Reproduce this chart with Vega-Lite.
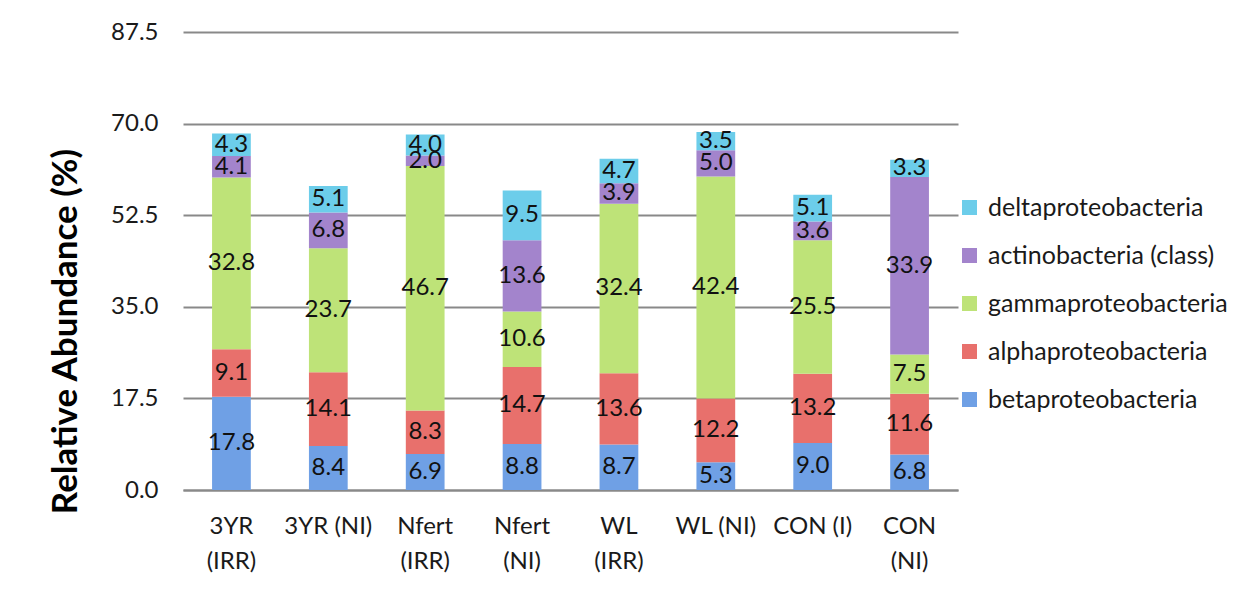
{
  "$schema": "https://vega.github.io/schema/vega-lite/v6.json",
  "autosize": "none",
  "width": 775,
  "height": 458,
  "padding": {"left": 183, "top": 32, "right": 295, "bottom": 115},
  "background": "white",
  "config": {
    "font": "Lato",
    "view": {"stroke": null}
  },
  "data": {
    "values": [
      {"group": "3YR (IRR)", "taxon": "betaproteobacteria", "ord": 1, "value": 17.8},
      {"group": "3YR (IRR)", "taxon": "alphaproteobacteria", "ord": 2, "value": 9.1},
      {"group": "3YR (IRR)", "taxon": "gammaproteobacteria", "ord": 3, "value": 32.8},
      {"group": "3YR (IRR)", "taxon": "actinobacteria (class)", "ord": 4, "value": 4.1},
      {"group": "3YR (IRR)", "taxon": "deltaproteobacteria", "ord": 5, "value": 4.3},
      {"group": "3YR (NI)", "taxon": "betaproteobacteria", "ord": 1, "value": 8.4},
      {"group": "3YR (NI)", "taxon": "alphaproteobacteria", "ord": 2, "value": 14.1},
      {"group": "3YR (NI)", "taxon": "gammaproteobacteria", "ord": 3, "value": 23.7},
      {"group": "3YR (NI)", "taxon": "actinobacteria (class)", "ord": 4, "value": 6.8},
      {"group": "3YR (NI)", "taxon": "deltaproteobacteria", "ord": 5, "value": 5.1},
      {"group": "Nfert (IRR)", "taxon": "betaproteobacteria", "ord": 1, "value": 6.9},
      {"group": "Nfert (IRR)", "taxon": "alphaproteobacteria", "ord": 2, "value": 8.3},
      {"group": "Nfert (IRR)", "taxon": "gammaproteobacteria", "ord": 3, "value": 46.7},
      {"group": "Nfert (IRR)", "taxon": "actinobacteria (class)", "ord": 4, "value": 2.0},
      {"group": "Nfert (IRR)", "taxon": "deltaproteobacteria", "ord": 5, "value": 4.0},
      {"group": "Nfert (NI)", "taxon": "betaproteobacteria", "ord": 1, "value": 8.8},
      {"group": "Nfert (NI)", "taxon": "alphaproteobacteria", "ord": 2, "value": 14.7},
      {"group": "Nfert (NI)", "taxon": "gammaproteobacteria", "ord": 3, "value": 10.6},
      {"group": "Nfert (NI)", "taxon": "actinobacteria (class)", "ord": 4, "value": 13.6},
      {"group": "Nfert (NI)", "taxon": "deltaproteobacteria", "ord": 5, "value": 9.5},
      {"group": "WL (IRR)", "taxon": "betaproteobacteria", "ord": 1, "value": 8.7},
      {"group": "WL (IRR)", "taxon": "alphaproteobacteria", "ord": 2, "value": 13.6},
      {"group": "WL (IRR)", "taxon": "gammaproteobacteria", "ord": 3, "value": 32.4},
      {"group": "WL (IRR)", "taxon": "actinobacteria (class)", "ord": 4, "value": 3.9},
      {"group": "WL (IRR)", "taxon": "deltaproteobacteria", "ord": 5, "value": 4.7},
      {"group": "WL (NI)", "taxon": "betaproteobacteria", "ord": 1, "value": 5.3},
      {"group": "WL (NI)", "taxon": "alphaproteobacteria", "ord": 2, "value": 12.2},
      {"group": "WL (NI)", "taxon": "gammaproteobacteria", "ord": 3, "value": 42.4},
      {"group": "WL (NI)", "taxon": "actinobacteria (class)", "ord": 4, "value": 5.0},
      {"group": "WL (NI)", "taxon": "deltaproteobacteria", "ord": 5, "value": 3.5},
      {"group": "CON (I)", "taxon": "betaproteobacteria", "ord": 1, "value": 9.0},
      {"group": "CON (I)", "taxon": "alphaproteobacteria", "ord": 2, "value": 13.2},
      {"group": "CON (I)", "taxon": "gammaproteobacteria", "ord": 3, "value": 25.5},
      {"group": "CON (I)", "taxon": "actinobacteria (class)", "ord": 4, "value": 3.6},
      {"group": "CON (I)", "taxon": "deltaproteobacteria", "ord": 5, "value": 5.1},
      {"group": "CON (NI)", "taxon": "betaproteobacteria", "ord": 1, "value": 6.8},
      {"group": "CON (NI)", "taxon": "alphaproteobacteria", "ord": 2, "value": 11.6},
      {"group": "CON (NI)", "taxon": "gammaproteobacteria", "ord": 3, "value": 7.5},
      {"group": "CON (NI)", "taxon": "actinobacteria (class)", "ord": 4, "value": 33.9},
      {"group": "CON (NI)", "taxon": "deltaproteobacteria", "ord": 5, "value": 3.3}
    ]
  },
  "encoding": {
    "x": {
      "field": "group",
      "type": "nominal",
      "sort": null,
      "scale": {"paddingInner": 0.6, "paddingOuter": 0.3},
      "axis": {
        "title": null,
        "labelAngle": 0,
        "ticks": false,
        "domain": true,
        "domainColor": "#898989",
        "domainWidth": 2,
        "labelFontSize": 24,
        "labelColor": "#1a1a1a",
        "labelPadding": 24,
        "labelLineHeight": 35,
        "labelBaseline": "top",
        "labelExpr": "indexof(['3YR (NI)','WL (NI)','CON (I)'], datum.label) >= 0 ? datum.label : split(datum.label, ' ')"
      }
    },
    "y": {
      "field": "value",
      "type": "quantitative",
      "stack": "zero",
      "title": "Relative Abundance (%)",
      "scale": {"domain": [0, 87.5], "nice": false},
      "axis": {
        "titleFontSize": 35,
        "titleFontWeight": "bold",
        "titleColor": "#000000",
        "titleX": -118,
        "titleY": 299,
        "titleAngle": -90,
        "titleAlign": "center",
        "titleBaseline": "middle",
        "values": [0, 17.5, 35, 52.5, 70, 87.5],
        "format": ".1f",
        "ticks": false,
        "domain": false,
        "grid": true,
        "gridColor": "#898989",
        "gridWidth": 2,
        "labelFontSize": 24,
        "labelColor": "#1a1a1a",
        "labelPadding": 25
      }
    },
    "order": {"field": "ord", "type": "quantitative"}
  },
  "layer": [
    {
      "mark": {"type": "bar"},
      "encoding": {
        "color": {
          "field": "taxon",
          "type": "nominal",
          "scale": {
            "domain": ["deltaproteobacteria", "actinobacteria (class)", "gammaproteobacteria", "alphaproteobacteria", "betaproteobacteria"],
            "range": ["#6ccdea", "#a384cc", "#bee378", "#e8706c", "#6fa0e5"]
          },
          "legend": {
            "title": null,
            "orient": "none",
            "legendX": 774,
            "legendY": 163,
            "symbolType": "square",
            "symbolSize": 225,
            "symbolStrokeWidth": 0,
            "labelFontSize": 25,
            "labelColor": "#1a1a1a",
            "labelLimit": 400,
            "rowPadding": 22,
            "labelOffset": 6
          }
        }
      }
    },
    {
      "mark": {"type": "text", "fontSize": 24, "color": "#111111", "baseline": "middle"},
      "encoding": {
        "y": {
          "field": "value",
          "type": "quantitative",
          "stack": "zero",
          "bandPosition": 0.5,
          "title": "Relative Abundance (%)"
        },
        "text": {"field": "value", "type": "quantitative", "format": ".1f"}
      }
    }
  ]
}
